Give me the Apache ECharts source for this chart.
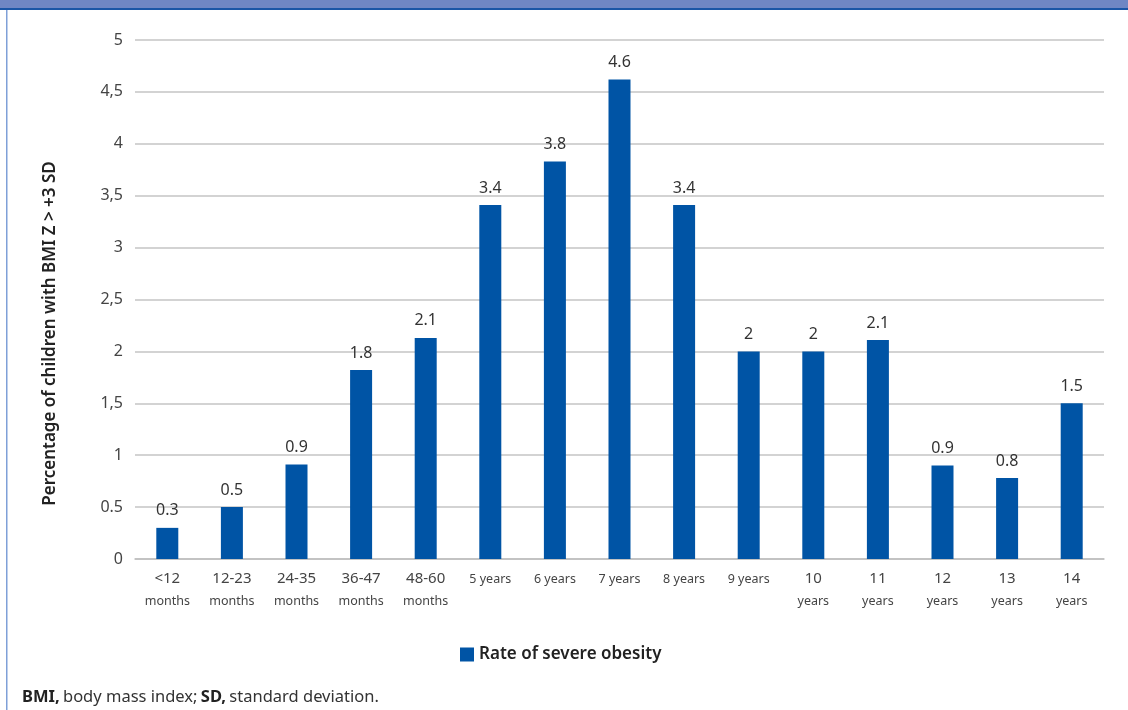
<!DOCTYPE html>
<html>
<head>
<meta charset="utf-8">
<script src="https://cdn.jsdelivr.net/npm/echarts@6/dist/echarts.min.js"></script>
<style>html,body{margin:0;padding:0;background:#fff}#c{width:1128px;height:710px}</style>
</head>
<body>
<div id="c"></div>
<script>
const categories = ["<12\nmonths","12-23\nmonths","24-35\nmonths","36-47\nmonths","48-60\nmonths","5 years","6 years","7 years","8 years","9 years","10\nyears","11\nyears","12\nyears","13\nyears","14\nyears"];
const values = [0.3, 0.5, 0.91, 1.82, 2.13, 3.41, 3.83, 4.62, 3.41, 2.0, 2.0, 2.11, 0.9, 0.78, 1.5];
const valueLabels = ["0.3","0.5","0.9","1.8","2.1","3.4","3.8","4.6","3.4","2","2","2.1","0.9","0.8","1.5"];
const yTickLabels = {"0":"0","0.5":"0.5","1":"1","1.5":"1,5","2":"2","2.5":"2,5","3":"3","3.5":"3,5","4":"4","4.5":"4,5","5":"5"};
const seriesName = "Rate of severe obesity";
const yAxisTitle = "Percentage of children with BMI Z > +3 SD";

const chart = echarts.init(document.getElementById('c'));
const FONT = '"Noto Sans", "Open Sans", sans-serif';
chart.setOption({
  animation: false,
  textStyle: {fontFamily: FONT},
  grid: {left: 135, right: 24, top: 40, bottom: 151, containLabel: false},
  legend: {
    data: [seriesName], bottom: 42, left: 455,
    itemWidth: 14, itemHeight: 14, icon: 'rect', itemGap: 5,
    textStyle: {fontSize: 17, color: '#222', fontWeight: 600, fontFamily: FONT}
  },
  xAxis: {
    type: 'category', data: categories,
    axisLine: {lineStyle: {color: '#bfbfbf', width: 1.5}},
    axisTick: {show: false},
    axisLabel: {
      interval: 0, margin: 9, color: '#444',
      formatter: function (v) {
        const p = v.split('\n');
        if (p.length === 2) return '{a|' + p[0] + '}\n{b|' + p[1] + '}';
        return '{b|' + v + '}';
      },
      rich: {
        a: {fontSize: 15, lineHeight: 22, color: '#444', fontFamily: FONT},
        b: {fontSize: 12.5, lineHeight: 22, color: '#444', fontFamily: FONT}
      }
    }
  },
  yAxis: {
    type: 'value', min: 0, max: 5, interval: 0.5,
    name: yAxisTitle, nameLocation: 'middle', nameGap: 76,
    nameTextStyle: {fontSize: 17, color: '#222', fontWeight: 600, fontFamily: FONT, padding: [0, 68, 0, 0]},
    axisLine: {show: false}, axisTick: {show: false},
    axisLabel: {
      margin: 12, fontSize: 16, color: '#444',
      formatter: function (v) { const k = String(Math.round(v * 10) / 10); return yTickLabels[k] !== undefined ? yTickLabels[k] : k; }
    },
    splitLine: {lineStyle: {color: '#c4c4c4', width: 1.5}}
  },
  series: [{
    name: seriesName, type: 'bar', data: values, barWidth: 22,
    itemStyle: {color: '#0054a5'},
    label: {
      show: true, position: 'top', distance: 9, fontSize: 16, color: '#333',
      formatter: function (p) { return valueLabels[p.dataIndex]; }
    }
  }],
  graphic: [
    {type: 'rect', left: 0, top: 0, shape: {width: 1128, height: 9}, style: {fill: '#6f86c4'}, silent: true},
    {type: 'rect', left: 0, top: 8, shape: {width: 1128, height: 2}, style: {fill: '#1a55a6'}, silent: true},
    {type: 'rect', left: 6, top: 10, shape: {width: 1.5, height: 700}, style: {fill: '#7fa0d8'}, silent: true},
    {type: 'text', left: 22, top: 689, style: {
      text: '{b|BMI,} {n|body mass index;} {b|SD,} {n|standard deviation.}',
      rich: {
        b: {fontSize: 16.5, fontWeight: 700, fill: '#222', fontFamily: FONT},
        n: {fontSize: 16.5, fill: '#333', fontFamily: FONT}
      }
    }}
  ]
});
</script>
</body>
</html>
